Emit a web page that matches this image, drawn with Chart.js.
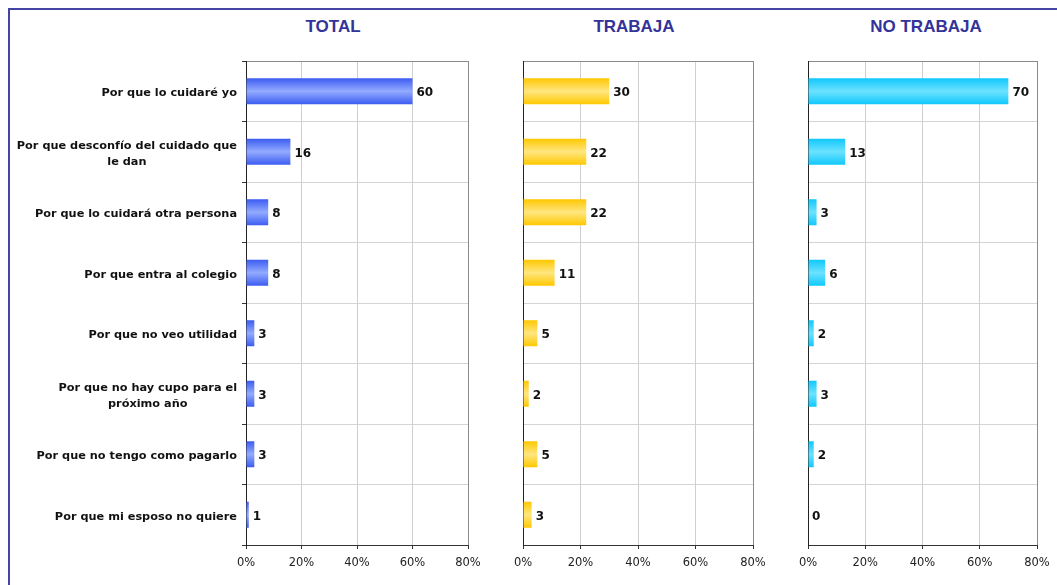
<!DOCTYPE html>
<html>
<head>
<meta charset="utf-8">
<script src="https://cdn.jsdelivr.net/npm/chart.js@4"></script>
<style>
  body { margin: 0; background: #fff; width: 1057px; height: 585px; overflow: hidden; position: relative; }
  .marco { position: absolute; left: 8px; top: 8px; width: 1100px; height: 600px; border: 2px solid #4444a4; }
  .titulo { position: absolute; top: 17px; font: bold 17px "Liberation Sans", Arial, sans-serif; color: #333399; text-align: center; width: 200px; }
  canvas { position: absolute; top: 0; }
</style>
</head>
<body>
<div class="marco"></div>
<div class="titulo" style="left:233px">TOTAL</div>
<div class="titulo" style="left:534px">TRABAJA</div>
<div class="titulo" style="left:826px">NO TRABAJA</div>
<canvas id="c1" style="left:0px" width="490" height="585"></canvas>
<canvas id="c2" style="left:490px" width="285" height="585"></canvas>
<canvas id="c3" style="left:775px" width="282" height="585"></canvas>
<script>
const categorias = [
  'Por que lo cuidaré yo',
  ['Por que desconfío del cuidado que', 'le dan'],
  'Por que lo cuidará otra persona',
  'Por que entra al colegio',
  'Por que no veo utilidad',
  ['Por que no hay cupo para el', 'próximo año'],
  'Por que no tengo como pagarlo',
  'Por que mi esposo no quiere'
];
const total = [60, 16, 8, 8, 3, 3, 3, 1];
const trabaja = [30, 22, 22, 11, 5, 2, 5, 3];
const noTrabaja = [70, 13, 3, 6, 2, 3, 2, 0];
const ticksX = [0, 20, 40, 60, 80];

const fuenteCategorias = 'bold 11.3px "DejaVu Sans", Verdana, sans-serif';
const fuenteValores = 'bold 12px "DejaVu Sans", Verdana, sans-serif';

// etiquetas con el valor al final de cada barra
const valoresPlugin = {
  id: 'valores',
  afterDatasetsDraw(chart) {
    const ctx = chart.ctx;
    const meta = chart.getDatasetMeta(0);
    const datos = chart.data.datasets[0].data;
    ctx.save();
    ctx.font = fuenteValores;
    ctx.fillStyle = '#111';
    ctx.textBaseline = 'middle';
    ctx.textAlign = 'left';
    meta.data.forEach((bar, i) => {
      ctx.fillText(String(datos[i]), bar.x + 4, bar.y + 2);
    });
    ctx.restore();
  }
};

// etiquetas de categoría: alineadas a la derecha, líneas centradas entre sí
const categoriasPlugin = {
  id: 'categorias',
  afterDraw(chart, args, opts) {
    if (!opts.mostrar) return;
    const ctx = chart.ctx;
    const y = chart.scales.y;
    const derecha = chart.chartArea.left - 9;
    ctx.save();
    ctx.font = fuenteCategorias;
    ctx.fillStyle = '#111';
    ctx.textBaseline = 'middle';
    ctx.textAlign = 'center';
    chart.data.labels.forEach((lab, i) => {
      const lineas = Array.isArray(lab) ? lab : [lab];
      const ancho = Math.max(...lineas.map(l => ctx.measureText(l).width));
      const cx = derecha - ancho / 2;
      const cy = y.getPixelForValue(i) + 2;
      const alto = 16;
      lineas.forEach((l, k) => {
        ctx.fillText(l, cx, cy + (k - (lineas.length - 1) / 2) * alto);
      });
    });
    ctx.restore();
  }
};

function degradado(ctxScr, bordes, centro) {
  const chart = ctxScr.chart;
  const area = chart.chartArea;
  const y = chart.scales.y;
  if (!area || !y) return bordes;
  const paso = (area.bottom - area.top) / categorias.length;
  const alto = paso * 0.43;
  const cy = y.getPixelForValue(ctxScr.dataIndex);
  const g = chart.ctx.createLinearGradient(0, cy - alto / 2, 0, cy + alto / 2);
  g.addColorStop(0, bordes);
  g.addColorStop(0.5, centro);
  g.addColorStop(1, bordes);
  return g;
}

function crearPanel(id, datos, bordes, centro, anchoEje, padDer, conEtiquetas) {
  new Chart(document.getElementById(id), {
    type: 'bar',
    data: {
      labels: categorias,
      datasets: [{
        data: datos,
        backgroundColor: c => degradado(c, bordes, centro),
        borderWidth: 0,
        categoryPercentage: 0.86,
        barPercentage: 0.5
      }]
    },
    options: {
      indexAxis: 'y',
      responsive: false,
      animation: false,
      layout: { padding: { top: 61, right: padDer, left: 0, bottom: 0 } },
      plugins: {
        legend: { display: false },
        tooltip: { enabled: false },
        categorias: { mostrar: conEtiquetas }
      },
      scales: {
        x: {
          min: 0,
          max: 80,
          afterBuildTicks: s => { s.ticks = ticksX.map(v => ({ value: v })); },
          afterFit: s => { s.height = 40; },
          ticks: {
            callback: v => v + '%',
            color: '#222',
            padding: 7,
            maxRotation: 0,
            font: { family: '"DejaVu Sans", Tahoma, sans-serif', size: 11.5 }
          },
          grid: {
            color: c => (c.index === ticksX.length - 1 ? '#8a8a8a' : '#cfcfcf'),
            tickColor: '#333',
            tickLength: 4
          },
          border: { color: '#333', width: 1 }
        },
        y: {
          afterFit: s => { s.width = anchoEje; },
          ticks: { display: false },
          grid: {
            offset: true,
            color: c => (c.index === 0 ? '#8a8a8a' : '#d4d4d4'),
            drawTicks: conEtiquetas,
            tickColor: '#333',
            tickLength: 4
          },
          border: { color: '#222', width: 1 }
        }
      }
    },
    plugins: [valoresPlugin, categoriasPlugin]
  });
}

crearPanel('c1', total, '#3c5cf2', '#93abff', 246, 22, true);
crearPanel('c2', trabaja, '#ffc800', '#ffe680', 33, 22, false);
crearPanel('c3', noTrabaja, '#10c8fc', '#6ce2ff', 33, 20, false);
</script>
</body>
</html>
